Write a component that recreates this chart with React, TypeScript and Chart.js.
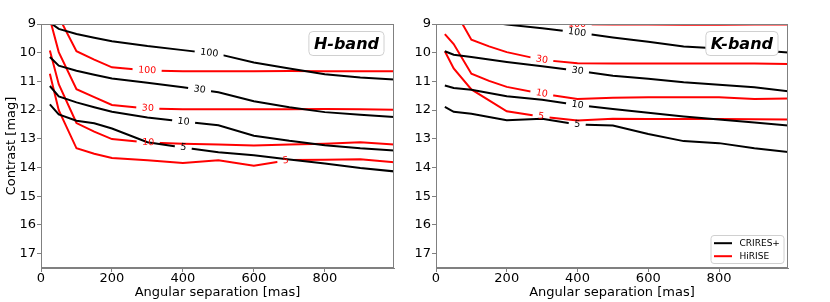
import React, { useEffect, useRef } from "react";
import { Chart, registerables } from "chart.js";

Chart.register(...registerables);

// ---------------- data ----------------
const separationMas = [25, 50, 100, 150, 200, 300, 400, 500, 600, 700, 800, 900, 1000];
const xTickValues = [0, 200, 400, 600, 800];
const yTickValues = [9, 10, 11, 12, 13, 14, 15, 16, 17];
const contrastLevels = ["100", "30", "10", "5"];

// H-band, CRIRES+ (black)
const hCrires100 = [8.95, 9.17, 9.35, 9.48, 9.6, 9.77, 9.91, 10.05, 10.34, 10.55, 10.75, 10.86, 10.94];
const hCrires30 = [10.15, 10.45, 10.63, 10.77, 10.9, 11.05, 11.2, 11.38, 11.69, 11.9, 12.07, 12.16, 12.24];
const hCrires10 = [11.16, 11.52, 11.73, 11.9, 12.06, 12.26, 12.4, 12.53, 12.89, 13.07, 13.22, 13.33, 13.41];
const hCrires5 = [11.8, 12.15, 12.37, 12.46, 12.64, 13.12, 13.3, 13.47, 13.57, 13.72, 13.86, 14.02, 14.14];
// H-band, HiRISE (red)
const hHirise100 = [8.15, 8.75, 9.95, 10.24, 10.51, 10.62, 10.65, 10.65, 10.65, 10.64, 10.65, 10.65, 10.65];
const hHirise30 = [8.82, 9.98, 11.27, 11.55, 11.82, 11.94, 11.97, 11.97, 11.97, 11.97, 11.96, 11.97, 11.99];
const hHirise10 = [9.92, 11.1, 12.45, 12.75, 13.01, 13.13, 13.17, 13.2, 13.23, 13.2, 13.17, 13.12, 13.2];
const hHirise5 = [10.73, 12.0, 13.33, 13.52, 13.67, 13.75, 13.84, 13.75, 13.94, 13.74, 13.73, 13.71, 13.82];

// K-band, CRIRES+ (black)
const kCrires100 = [8.6, 8.68, 8.85, 8.93, 9.02, 9.15, 9.3, 9.47, 9.62, 9.78, 9.85, 9.91, 10.0];
const kCrires30 = [9.95, 10.07, 10.15, 10.24, 10.32, 10.47, 10.63, 10.8, 10.91, 11.03, 11.12, 11.2, 11.35];
const kCrires10 = [11.14, 11.23, 11.29, 11.4, 11.52, 11.64, 11.82, 11.96, 12.09, 12.22, 12.33, 12.43, 12.54];
const kCrires5 = [11.89, 12.06, 12.13, 12.24, 12.35, 12.3, 12.5, 12.54, 12.83, 13.08, 13.15, 13.33, 13.47];
// K-band, HiRISE (red)
const kHirise100 = [7.5, 7.8, 8.3, 8.6, 8.8, 8.95, 9.01, 9.02, 9.02, 9.03, 9.03, 9.02, 9.02];
const kHirise30 = [8.1, 8.46, 9.55, 9.78, 9.98, 10.25, 10.37, 10.38, 10.38, 10.38, 10.38, 10.38, 10.39];
const kHirise10 = [9.35, 9.7, 10.73, 10.98, 11.19, 11.43, 11.61, 11.57, 11.55, 11.55, 11.55, 11.61, 11.59];
const kHirise5 = [9.95, 10.55, 11.28, 11.66, 12.04, 12.23, 12.36, 12.3, 12.31, 12.31, 12.31, 12.32, 12.33];

// where (in mas) each contour's inline label sits
const hCriresLabelAt = [474, 447, 402, 401];
const hHiriseLabelAt = [299, 301, 302, 690];
const kCriresLabelAt = [399, 400, 400, 399];
const kHiriseLabelAt = [399, 299, 299, 297];

const BLACK = "#000000";
const RED = "#ff0000";
const FONT = "'DejaVu Sans', sans-serif";
const LABEL_FONT = `9.5px ${FONT}`;

// ---------------- helpers ----------------
function interp(xs: number[], ys: number[], x: number) {
  for (let i = 0; i < xs.length - 1; i++) {
    if (x >= xs[i] && x <= xs[i + 1]) {
      const t = (x - xs[i]) / (xs[i + 1] - xs[i]);
      return ys[i] + t * (ys[i + 1] - ys[i]);
    }
  }
  return x < xs[0] ? ys[0] : ys[ys.length - 1];
}

function labelGeom(chart: any, index: number) {
  const ds = chart.data.datasets[index];
  if (!ds || !ds.contourLabel) return null;
  const xs = ds.data.map((p: any) => p.x);
  const ys = ds.data.map((p: any) => p.y);
  const sx = chart.scales.x;
  const sy = chart.scales.y;
  const xv = ds.labelAt;
  const px = sx.getPixelForValue(xv);
  const py = sy.getPixelForValue(interp(xs, ys, xv));
  const x1 = sx.getPixelForValue(xv - 25);
  const y1 = sy.getPixelForValue(interp(xs, ys, xv - 25));
  const x2 = sx.getPixelForValue(xv + 25);
  const y2 = sy.getPixelForValue(interp(xs, ys, xv + 25));
  const angle = Math.atan2(y2 - y1, x2 - x1);
  const ctx = chart.ctx;
  ctx.save();
  ctx.font = LABEL_FONT;
  const tw = ctx.measureText(ds.contourLabel).width;
  ctx.restore();
  return { x: px, y: py, angle, w: tw + 11, h: 10, text: ds.contourLabel, color: ds.borderColor };
}

const contourLabelPlugin = {
  id: "contourLabels",
  beforeDatasetDraw(chart: any, args: any) {
    const g = labelGeom(chart, args.index);
    if (!g) return;
    const ctx = chart.ctx;
    ctx.save();
    ctx.beginPath();
    ctx.rect(0, 0, chart.width, chart.height);
    const c = Math.cos(g.angle);
    const s = Math.sin(g.angle);
    const corners = [
      [-g.w / 2, -g.h / 2],
      [g.w / 2, -g.h / 2],
      [g.w / 2, g.h / 2],
      [-g.w / 2, g.h / 2],
    ].map(([a, b]) => [g.x + a * c - b * s, g.y + a * s + b * c]);
    ctx.moveTo(corners[0][0], corners[0][1]);
    for (let i = 1; i < 4; i++) ctx.lineTo(corners[i][0], corners[i][1]);
    ctx.closePath();
    ctx.clip("evenodd");
  },
  afterDatasetDraw(chart: any, args: any) {
    const ds = chart.data.datasets[args.index];
    if (ds && ds.contourLabel) chart.ctx.restore();
  },
  afterDatasetsDraw(chart: any) {
    const ctx = chart.ctx;
    const area = chart.chartArea;
    ctx.save();
    ctx.beginPath();
    ctx.rect(area.left, area.top, area.right - area.left, area.bottom - area.top);
    ctx.clip();
    chart.data.datasets.forEach((_: any, i: number) => {
      const g = labelGeom(chart, i);
      if (!g) return;
      ctx.save();
      ctx.translate(g.x, g.y);
      ctx.rotate(g.angle);
      ctx.font = LABEL_FONT;
      ctx.fillStyle = g.color;
      ctx.textAlign = "center";
      ctx.textBaseline = "middle";
      ctx.fillText(g.text, 0, 0);
      ctx.restore();
    });
    ctx.restore();
    // frame (all four spines)
    ctx.save();
    ctx.strokeStyle = "#808080";
    ctx.lineWidth = 1;
    ctx.strokeRect(area.left + 0.5, area.top + 0.5, area.right - area.left - 1, area.bottom - area.top - 1);
    ctx.restore();
  },
};

function makeDecorPlugin(band: string, showLegend: boolean) {
  return {
    id: "decor",
    afterDraw(chart: any) {
      const ctx = chart.ctx;
      const area = chart.chartArea;
      ctx.save();
      ctx.font = `italic bold 16px ${FONT}`;
      const tw = ctx.measureText(band).width;
      const bw = tw + 10;
      const bh = 24;
      const bx = area.right - 10 - bw;
      const by = area.top + 7.5;
      ctx.beginPath();
      ctx.roundRect(bx, by, bw, bh, 4);
      ctx.fillStyle = "#ffffff";
      ctx.fill();
      ctx.strokeStyle = "#d0d0d0";
      ctx.lineWidth = 1;
      ctx.stroke();
      ctx.fillStyle = "#000000";
      ctx.textAlign = "center";
      ctx.textBaseline = "middle";
      ctx.fillText(band, bx + bw / 2, by + bh / 2 + 1);
      ctx.restore();

      if (showLegend) {
        const lw = 73;
        const lh = 28;
        const lx = area.right - 4 - lw;
        const ly = area.bottom - 4.5 - lh;
        ctx.save();
        ctx.beginPath();
        ctx.roundRect(lx, ly, lw, lh, 3);
        ctx.fillStyle = "#ffffff";
        ctx.fill();
        ctx.strokeStyle = "#d0d0d0";
        ctx.lineWidth = 1;
        ctx.stroke();
        const items = [
          { text: "CRIRES+", color: BLACK },
          { text: "HiRISE", color: RED },
        ];
        items.forEach((it, i) => {
          const yy = ly + 7.7 + i * 13;
          ctx.beginPath();
          ctx.moveTo(lx + 3, yy);
          ctx.lineTo(lx + 21, yy);
          ctx.strokeStyle = it.color;
          ctx.lineWidth = 2;
          ctx.stroke();
          ctx.font = `9px ${FONT}`;
          ctx.fillStyle = "#000000";
          ctx.textAlign = "left";
          ctx.textBaseline = "middle";
          ctx.fillText(it.text, lx + 28.5, yy);
        });
        ctx.restore();
      }
    },
  };
}

type Series = { values: number[]; color: string; label: string; labelAt: number };

function buildSeries(crires: number[][], hirise: number[][], criresAt: number[], hiriseAt: number[]): Series[] {
  const out: Series[] = [];
  crires.forEach((v, i) => out.push({ values: v, color: BLACK, label: contrastLevels[i], labelAt: criresAt[i] }));
  hirise.forEach((v, i) => out.push({ values: v, color: RED, label: contrastLevels[i], labelAt: hiriseAt[i] }));
  return out;
}

function makeConfig(series: Series[], band: string, opts: { yWidth: number; padRight: number; yTitle: boolean; legend: boolean }): any {
  return {
    type: "line",
    data: {
      datasets: series.map((s) => ({
        data: separationMas.map((x, i) => ({ x, y: s.values[i] })),
        borderColor: s.color,
        backgroundColor: s.color,
        borderWidth: 2,
        pointRadius: 0,
        fill: false,
        tension: 0,
        contourLabel: s.label,
        labelAt: s.labelAt,
      })),
    },
    options: {
      animation: false,
      responsive: false,
      maintainAspectRatio: false,
      events: [],
      layout: { padding: { top: 24, right: opts.padRight, bottom: 0, left: 0 } },
      plugins: { legend: { display: false }, tooltip: { enabled: false } },
      scales: {
        x: {
          type: "linear",
          min: 0,
          max: 995,
          afterBuildTicks: (s: any) => {
            s.ticks = xTickValues.map((v) => ({ value: v }));
          },
          afterFit: (s: any) => {
            s.height = 34;
          },
          grid: { drawOnChartArea: false, drawTicks: true, tickLength: 4, tickColor: "#808080" },
          border: { display: true, color: "#808080", width: 1 },
          ticks: { color: "#000", font: { family: FONT, size: 13, lineHeight: 1 }, padding: 0, maxRotation: 0 },
          title: {
            display: true,
            text: "Angular separation [mas]",
            color: "#000",
            font: { family: FONT, size: 13 },
            padding: { top: 0, bottom: 2 },
          },
        },
        y: {
          type: "linear",
          reverse: true,
          min: 9,
          max: 17.5,
          afterBuildTicks: (s: any) => {
            s.ticks = yTickValues.map((v) => ({ value: v }));
          },
          afterFit: (s: any) => {
            s.width = opts.yWidth;
          },
          grid: { drawOnChartArea: false, drawTicks: true, tickLength: 4, tickColor: "#808080" },
          border: { display: true, color: "#808080", width: 1 },
          ticks: { color: "#000", font: { family: FONT, size: 13 }, padding: 1 },
          title: opts.yTitle
            ? {
                display: true,
                text: "Contrast [mag]",
                color: "#000",
                font: { family: FONT, size: 13 },
                padding: { top: 4, bottom: 0 },
              }
            : { display: false },
        },
      },
    },
    plugins: [contourLabelPlugin, makeDecorPlugin(band, opts.legend)],
  };
}

export default function App() {
  const leftRef = useRef<HTMLCanvasElement | null>(null);
  const rightRef = useRef<HTMLCanvasElement | null>(null);

  useEffect(() => {
    const hSeries = buildSeries(
      [hCrires100, hCrires30, hCrires10, hCrires5],
      [hHirise100, hHirise30, hHirise10, hHirise5],
      hCriresLabelAt,
      hHiriseLabelAt
    );
    const kSeries = buildSeries(
      [kCrires100, kCrires30, kCrires10, kCrires5],
      [kHirise100, kHirise30, kHirise10, kHirise5],
      kCriresLabelAt,
      kHiriseLabelAt
    );
    const left = new Chart(leftRef.current as HTMLCanvasElement, makeConfig(hSeries, "H-band", { yWidth: 41, padRight: 21, yTitle: true, legend: false }));
    const right = new Chart(rightRef.current as HTMLCanvasElement, makeConfig(kSeries, "K-band", { yWidth: 21, padRight: 42, yTitle: false, legend: true }));
    return () => {
      left.destroy();
      right.destroy();
    };
  }, []);

  return (
    <div style={{ position: "absolute", left: 0, top: 0, width: 830, height: 302, background: "#ffffff" }}>
      <canvas ref={leftRef} width={415} height={302} style={{ position: "absolute", left: 0, top: 0, width: 415, height: 302 }} />
      <canvas ref={rightRef} width={415} height={302} style={{ position: "absolute", left: 415, top: 0, width: 415, height: 302 }} />
    </div>
  );
}
